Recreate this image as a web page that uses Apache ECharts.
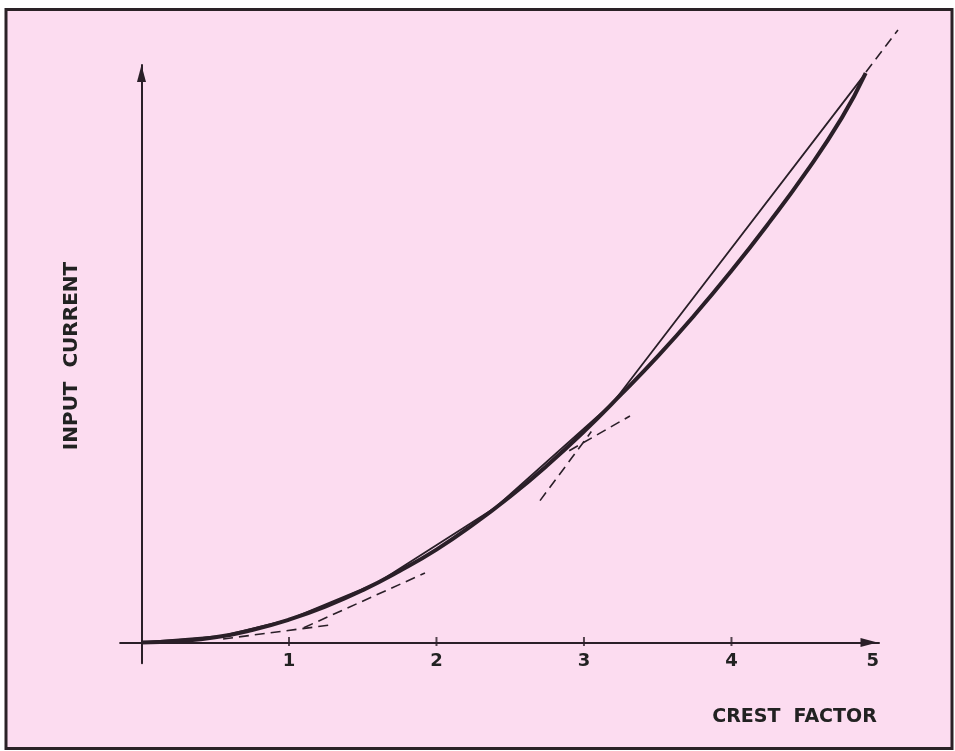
<!DOCTYPE html>
<html>
<head>
<meta charset="utf-8">
<script src="https://cdn.jsdelivr.net/npm/echarts@6/dist/echarts.min.js"></script>
<style>
  html, body { margin: 0; padding: 0; background: #ffffff; }
  #chart { width: 955px; height: 751px; }
</style>
</head>
<body>
<div id="chart"></div>
<script>
// Axis ticks and labels (crest factor)
const tickValues = [1, 2, 3, 4];
const tickLabels = [1, 2, 3, 4, 5];

// Square-law response curve
const curveX = [0, 0.25, 0.5, 0.75, 1, 1.25, 1.5, 1.75, 2, 2.25, 2.5, 2.75, 3, 3.25, 3.5, 3.75, 4, 4.25, 4.5, 4.75, 4.91];
const curveY = [0, 0.01, 0.035, 0.085, 0.155, 0.245, 0.355, 0.485, 0.63, 0.8, 0.99, 1.2, 1.43, 1.68, 1.94, 2.22, 2.52, 2.84, 3.18, 3.56, 3.86];

// Piecewise-linear approximation (breakpoints)
const segX = [0, 0.55, 1.0, 1.6, 2.4, 3.2, 4.91];
const segY = [0, 0.045, 0.155, 0.405, 0.915, 1.63, 3.86];

// Dashed segment extensions, each [x, y] start and end
const ext1 = [[0.553, 0.024], [1.29, 0.12]];
const ext2 = [[1.10, 0.10], [1.922, 0.471]];
const ext3 = [[2.702, 0.962], [3.05, 1.43]];
const ext4 = [[2.90, 1.30], [3.312, 1.536]];
const ext5 = [[4.912, 3.868], [5.129, 4.153]];

const ink = '#2a1f28';
const pink = '#fcdcf0';
const font = '"DejaVu Sans", "Liberation Sans", Arial, sans-serif';

const zip = (xs, ys) => xs.map((x, i) => [x, ys[i]]);

// all marks live on the wider plotting grid (index 1) sharing the same scale
const dashed = (data) => ({
  type: 'line',
  xAxisIndex: 1,
  yAxisIndex: 1,
  data: data,
  showSymbol: false,
  silent: true,
  clip: false,
  z: 3,
  lineStyle: { color: ink, width: 1.6, type: [10, 6] }
});

const chart = echarts.init(document.getElementById('chart'), null, { renderer: 'canvas' });

// 147.5 px per unit on both axes
const grids = [
  { left: 120.1, right: 76, top: 65, bottom: 87.85 },
  { left: 120.1, right: 31.8, top: 8.25, bottom: 87.85 }
];

const hiddenAxis = {
  show: false,
  splitLine: { show: false },
  axisTick: { show: false },
  axisLabel: { show: false },
  axisLine: { show: false }
};

chart.setOption({
  animation: false,
  backgroundColor: 'transparent',
  grid: grids,
  xAxis: [
    {
      type: 'value',
      gridIndex: 0,
      min: -0.145,
      max: 5,
      splitLine: { show: false },
      axisTick: { show: false },
      axisLine: {
        onZero: true,
        symbol: ['none', 'triangle'],
        symbolSize: [9, 17],
        symbolOffset: [0, -10],
        lineStyle: { color: ink, width: 2 }
      },
      axisLabel: {
        customValues: tickLabels,
        margin: -11,
        color: '#222',
        fontFamily: font,
        fontWeight: 'bold',
        fontSize: 18,
        alignMaxLabel: 'right'
      }
    },
    Object.assign({ type: 'value', gridIndex: 1, min: -0.145, max: 5.3 }, hiddenAxis)
  ],
  yAxis: [
    {
      type: 'value',
      gridIndex: 0,
      min: -0.14,
      max: 3.915,
      splitLine: { show: false },
      axisTick: { show: false },
      axisLabel: { show: false },
      axisLine: {
        onZero: true,
        symbol: ['none', 'triangle'],
        symbolSize: [9, 17],
        symbolOffset: [0, -8.5],
        lineStyle: { color: ink, width: 2 }
      }
    },
    Object.assign({ type: 'value', gridIndex: 1, min: -0.14, max: 4.3 }, hiddenAxis)
  ],
  graphic: [
    {
      type: 'rect',
      z: -10,
      shape: { x: 6, y: 9.5, width: 946, height: 739 },
      style: { fill: pink, stroke: '#2a2226', lineWidth: 3 }
    },
    {
      type: 'text',
      x: 71.5,
      y: 356,
      rotation: Math.PI / 2,
      style: {
        text: 'INPUT  CURRENT',
        font: 'bold 20px ' + font,
        fill: '#222',
        align: 'center',
        verticalAlign: 'middle'
      }
    },
    {
      type: 'text',
      x: 794.5,
      y: 717.5,
      style: {
        text: 'CREST  FACTOR',
        font: 'bold 19px ' + font,
        fill: '#222',
        align: 'center',
        verticalAlign: 'middle'
      }
    }
  ],
  series: [
    {
      type: 'scatter',
      xAxisIndex: 1,
      yAxisIndex: 1,
      data: tickValues.map(v => [v, 0]),
      symbol: 'rect',
      symbolSize: [2, 9],
      symbolOffset: [0, -1],
      silent: true,
      itemStyle: { color: ink },
      z: 4
    },
    {
      type: 'line',
      xAxisIndex: 1,
      yAxisIndex: 1,
      data: zip(curveX, curveY),
      smooth: true,
      showSymbol: false,
      silent: true,
      z: 4,
      lineStyle: { color: ink, width: 4 }
    },
    {
      type: 'line',
      xAxisIndex: 1,
      yAxisIndex: 1,
      data: zip(segX, segY),
      showSymbol: false,
      silent: true,
      z: 3,
      lineStyle: { color: ink, width: 1.8 }
    },
    dashed(ext1),
    dashed(ext2),
    dashed(ext3),
    dashed(ext4),
    dashed(ext5)
  ]
});
</script>
</body>
</html>
